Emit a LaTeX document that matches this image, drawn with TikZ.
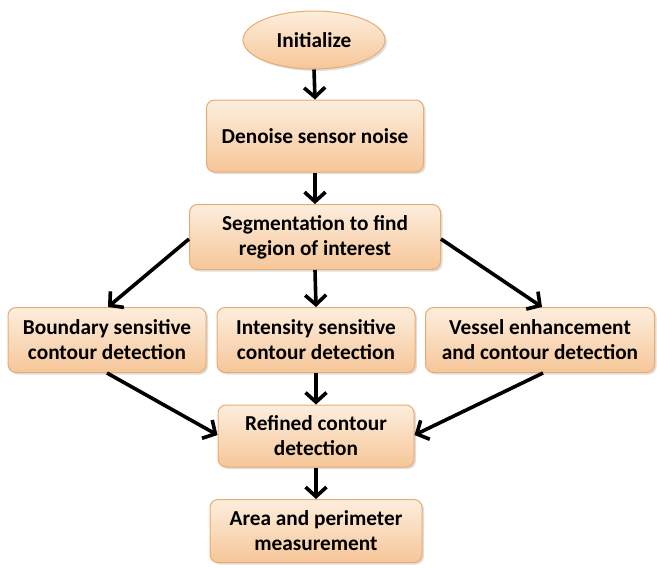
\documentclass[tikz,border=0pt]{standalone}
\usepackage{fontspec}
\setmainfont{Carlito}
\usetikzlibrary{arrows.meta,shapes.geometric,shadows}
\definecolor{boxtop}{RGB}{253,238,222}
\definecolor{boxbot}{RGB}{246,198,152}
\definecolor{boxline}{RGB}{232,172,112}
\tikzset{
  x=1pt,y=-1pt,
  flowbox/.style={rectangle,rounded corners=8pt,draw=boxline,line width=1pt,
    top color=boxtop,bottom color=boxbot,
    drop shadow={shadow xshift=2pt,shadow yshift=-2pt,opacity=0.25},
    font=\fontsize{21.3}{25}\selectfont\bfseries,align=center,inner sep=0pt},
  flowell/.style={ellipse,draw=boxline,line width=1pt,
    top color=boxtop,bottom color=boxbot,
    drop shadow={shadow xshift=2pt,shadow yshift=-2pt,opacity=0.25},
    font=\fontsize{21.3}{25}\selectfont\bfseries,inner sep=0pt},
  flowarrow/.style={line width=3.6pt,-{Straight Barb[length=9.5pt,width=21pt,line width=3.6pt]}}
}
\begin{document}
\begin{tikzpicture}
\useasboundingbox (0,0) rectangle (657,568);
\node[flowell,minimum width=142pt,minimum height=58pt] (init) at (314,40) {Initialize};
\node[flowbox,minimum width=217pt,minimum height=72pt] (den) at (315,136) {Denoise sensor noise};
\node[flowbox,minimum width=251pt,minimum height=65pt] (seg) at (315,237) {Segmentation to find\\region of interest};
\node[flowbox,minimum width=198pt,minimum height=65pt] (bnd) at (107,340) {Boundary sensitive\\contour detection};
\node[flowbox,minimum width=198pt,minimum height=65pt] (int) at (316,340) {Intensity sensitive\\contour detection};
\node[flowbox,minimum width=229pt,minimum height=65pt] (ves) at (540,340) {Vessel enhancement\\and contour detection};
\node[flowbox,minimum width=196pt,minimum height=62pt] (ref) at (316,436) {Refined contour\\detection};
\node[flowbox,minimum width=212pt,minimum height=63pt] (area) at (316,531) {Area and perimeter\\measurement};
\draw[flowarrow] (init.south) -- (den.north);
\draw[flowarrow] (den.south) -- (seg.north);
\draw[flowarrow] (seg.south) -- (int.north);
\draw[flowarrow] (int.south) -- (ref.north);
\draw[flowarrow] (ref.south) -- (area.north);
\draw[flowarrow] ([yshift=-2pt]seg.west) -- ([xshift=1pt]bnd.north);
\draw[flowarrow] ([yshift=-2pt]seg.east) -- ([xshift=2pt]ves.north);
\draw[flowarrow] ([xshift=0pt]bnd.south) -- ([yshift=1pt]ref.west);
\draw[flowarrow] ([xshift=3pt]ves.south) -- ([yshift=1pt]ref.east);
\end{tikzpicture}
\end{document}
